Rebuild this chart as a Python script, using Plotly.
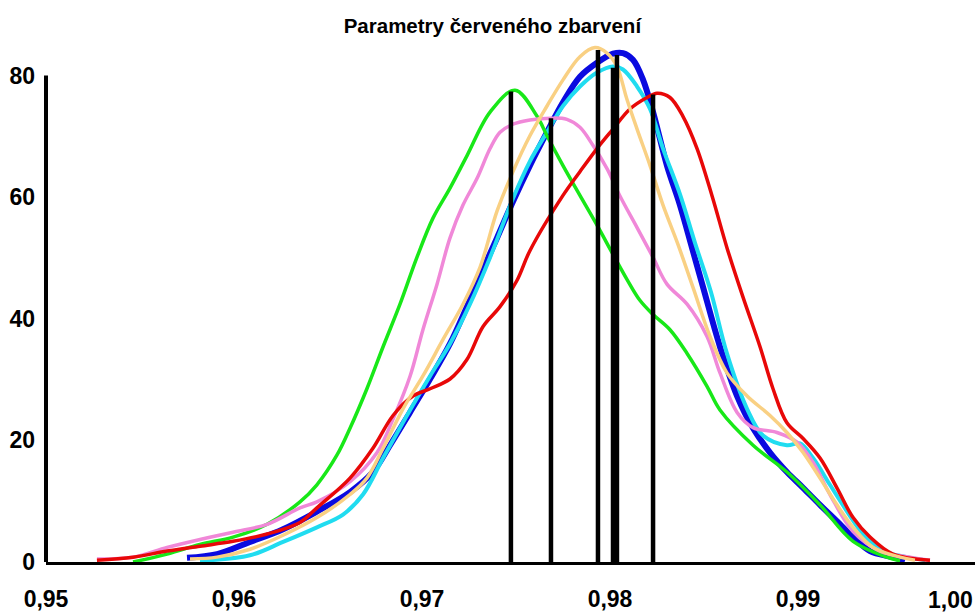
import plotly.graph_objects as go

# ---------------- data ----------------
green_x = [0.95463, 0.95644, 0.95819, 0.95995, 0.96176, 0.96351, 0.96441, 0.96548, 0.96617, 0.96707,
           0.96793, 0.96883, 0.96973, 0.97059, 0.97149, 0.97239, 0.97362, 0.97495, 0.97612, 0.97665,
           0.97750, 0.97840, 0.97931, 0.98016, 0.98090, 0.98160, 0.98229, 0.98319, 0.98410, 0.98516,
           0.98585, 0.98761, 0.98941, 0.99117, 0.99293, 0.99473, 0.99543]
green_y = [0.0, 1.3, 2.9, 4.1, 6.2, 9.9, 12.7, 17.6, 22.0, 28.5,
           35.4, 42.4, 50.1, 56.6, 61.5, 66.8, 74.0, 77.6, 73.3, 70.1,
           65.2, 60.3, 55.4, 50.6, 46.5, 43.0, 40.7, 38.2, 34.3, 28.9,
           25.0, 19.2, 14.8, 9.4, 3.4, 0.8, 0.2]

pink_x = [0.95271, 0.95463, 0.95644, 0.95819, 0.95995, 0.96176, 0.96351, 0.96441, 0.96617, 0.96761,
          0.96846, 0.96936, 0.97005, 0.97080, 0.97149, 0.97218, 0.97293, 0.97362, 0.97415, 0.97484,
          0.97574, 0.97686, 0.97771, 0.97840, 0.97910, 0.97984, 0.98053, 0.98144, 0.98229, 0.98303,
          0.98410, 0.98516, 0.98585, 0.98676, 0.98761, 0.98888, 0.98995, 0.99080, 0.99170, 0.99293,
          0.99436, 0.99596, 0.99702]
pink_y = [0.5, 0.8, 2.4, 3.7, 4.9, 6.2, 8.9, 9.9, 13.2, 18.0,
          23.5, 30.5, 38.2, 45.7, 53.3, 58.7, 63.1, 68.0, 70.7, 72.0,
          72.7, 73.0, 72.8, 71.5, 68.5, 64.7, 60.2, 55.0, 50.1, 45.7,
          42.4, 37.1, 31.1, 24.6, 22.1, 21.3, 19.7, 16.4, 11.1, 5.0,
          1.8, 0.8, 0.3]

blue_x = [0.95750, 0.95910, 0.96085, 0.96261, 0.96441, 0.96617, 0.96739, 0.96830, 0.96936, 0.97043,
          0.97149, 0.97239, 0.97324, 0.97399, 0.97484, 0.97574, 0.97665, 0.97750, 0.97840, 0.97931,
          0.98016, 0.98069, 0.98122, 0.98176, 0.98229, 0.98303, 0.98372, 0.98436, 0.98495, 0.98585,
          0.98676, 0.98761, 0.98851, 0.98941, 0.99027, 0.99117, 0.99207, 0.99293, 0.99383, 0.99505,
          0.99569]
blue_y = [0.7, 1.3, 3.3, 5.4, 8.3, 11.5, 14.8, 19.2, 24.6, 30.1,
          35.9, 42.0, 48.1, 53.3, 59.3, 65.2, 70.7, 75.6, 79.8, 82.1,
          83.6, 83.7, 82.6, 79.3, 74.0, 65.2, 58.7, 51.7, 45.2, 35.4,
          27.3, 22.0, 18.0, 14.8, 12.2, 9.4, 6.7, 4.1, 1.8, 0.8,
          0.2]

cyan_x = [0.95819, 0.96085, 0.96261, 0.96441, 0.96580, 0.96686, 0.96793, 0.96920, 0.97043, 0.97149,
          0.97255, 0.97362, 0.97484, 0.97574, 0.97665, 0.97750, 0.97840, 0.97931, 0.98016, 0.98069,
          0.98144, 0.98213, 0.98282, 0.98372, 0.98452, 0.98537, 0.98622, 0.98729, 0.98814, 0.98941,
          0.99011, 0.99080, 0.99170, 0.99261, 0.99346, 0.99452, 0.99580, 0.99676]
cyan_y = [0.2, 1.1, 3.3, 5.7, 7.8, 11.1, 17.1, 24.1, 30.6, 35.9,
          42.4, 50.1, 59.8, 65.9, 70.7, 75.0, 78.2, 80.5, 81.5, 81.0,
          78.2, 74.5, 68.0, 60.5, 52.5, 44.4, 34.3, 25.2, 20.8, 19.2,
          19.5, 17.1, 12.7, 8.3, 4.6, 1.8, 0.8, 0.3]

orange_x = [0.95766, 0.95910, 0.96085, 0.96261, 0.96441, 0.96617, 0.96707, 0.96793, 0.96899, 0.97005,
            0.97112, 0.97218, 0.97309, 0.97399, 0.97484, 0.97574, 0.97665, 0.97750, 0.97840, 0.97920,
            0.97984, 0.98037, 0.98090, 0.98144, 0.98213, 0.98282, 0.98362, 0.98441, 0.98532, 0.98622,
            0.98729, 0.98851, 0.98941, 0.99027, 0.99117, 0.99207, 0.99293, 0.99399, 0.99543, 0.99622]
orange_y = [0.5, 0.8, 2.1, 4.4, 7.3, 11.1, 13.8, 18.7, 25.2, 30.6,
            36.6, 42.4, 48.5, 57.7, 64.2, 70.1, 75.0, 79.3, 83.1, 84.6,
            83.7, 81.5, 76.1, 71.2, 65.2, 58.7, 52.2, 45.2, 37.1, 31.1,
            27.3, 24.1, 21.3, 18.0, 13.8, 9.4, 5.7, 2.4, 0.8, 0.3]

red_x = [0.95271, 0.95463, 0.95644, 0.95819, 0.95995, 0.96176, 0.96351, 0.96441, 0.96617, 0.96739,
         0.96846, 0.96952, 0.97043, 0.97149, 0.97239, 0.97324, 0.97415, 0.97505, 0.97574, 0.97750,
         0.97840, 0.97931, 0.98016, 0.98106, 0.98197, 0.98250, 0.98319, 0.98388, 0.98463, 0.98543,
         0.98622, 0.98707, 0.98798, 0.98867, 0.98941, 0.99027, 0.99117, 0.99207, 0.99293, 0.99383,
         0.99505, 0.99702]
red_y = [0.3, 0.8, 1.8, 2.6, 3.4, 4.6, 6.5, 8.9, 13.8, 18.7,
         24.1, 27.3, 28.5, 30.1, 33.3, 38.7, 42.0, 46.3, 51.2, 60.3,
         64.2, 68.0, 71.2, 74.5, 76.4, 77.1, 76.4, 73.3, 68.0, 60.2,
         51.7, 43.6, 35.4, 28.5, 22.9, 20.3, 17.1, 12.2, 7.3, 4.1,
         1.3, 0.3]

# mean markers (vertical black lines) and their heights
mean_x = [0.97473, 0.97686, 0.97936, 0.98016, 0.98037, 0.98229]
mean_h = [77.4, 73.0, 84.2, 81.3, 83.4, 76.9]

x_ticks = [0.95, 0.96, 0.97, 0.98, 0.99]
x_ticktext = ["0,95", "0,96", "0,97", "0,98", "0,99"]
last_x_label = "1,00"
y_ticks = [0, 20, 40, 60, 80]
y_top = 80

title_text = "Parametry červeného zbarvení"

# ---------------- figure ----------------
FONT = "Liberation Sans, Arial, sans-serif"

series = [
    (blue_x, blue_y, "#0a0ae0", 6),
    (cyan_x, cyan_y, "#20dcf0", 4),
    (green_x, green_y, "#18e818", 3.5),
    (pink_x, pink_y, "#f088d8", 3.5),
    (red_x, red_y, "#e80808", 3.5),
    (orange_x, orange_y, "#f9d083", 3.5),
]

fig = go.Figure()
for xs, ys, col, w in series:
    fig.add_trace(go.Scatter(x=xs, y=ys, mode="lines",
                             line=dict(color=col, width=w, shape="spline", smoothing=1.0),
                             hoverinfo="skip", showlegend=False))

for mx, mh in zip(mean_x, mean_h):
    fig.add_trace(go.Scatter(x=[mx, mx], y=[0, mh], mode="lines",
                             line=dict(color="black", width=4.5),
                             hoverinfo="skip", showlegend=False))

px_per_unit = 6.15
plot_h = 612 - 40 - 44
x_max = 0.95 + 929 / 18800

fig.update_layout(
    width=975, height=612,
    margin=dict(l=46, r=0, t=40, b=44),
    paper_bgcolor="white", plot_bgcolor="white",
    title=dict(text=title_text, x=0.505, xanchor="center", y=0.957, yanchor="middle",
               font=dict(family=FONT, size=20.5, color="black", weight="bold")),
    xaxis=dict(range=[0.95, x_max], tickvals=x_ticks, ticktext=x_ticktext,
               showgrid=False, zeroline=False, showline=True, linecolor="black", linewidth=3,
               ticks="", ticklabelstandoff=14,
               tickfont=dict(family=FONT, size=23, color="black", weight="bold")),
    yaxis=dict(range=[0, plot_h / px_per_unit], tickvals=y_ticks, ticktext=[str(v) for v in y_ticks],
               showgrid=False, zeroline=False, showline=False,
               ticks="", ticklabelstandoff=10,
               tickfont=dict(family=FONT, size=23, color="black", weight="bold")),
    shapes=[dict(type="line", xref="paper", x0=0, x1=0, yref="y", y0=0, y1=y_top,
                 line=dict(color="black", width=4))],
    annotations=[dict(text=last_x_label, xref="paper", x=1.0, xanchor="right",
                      yref="paper", y=-38 / plot_h, yanchor="middle", showarrow=False,
                      font=dict(family=FONT, size=23, color="black", weight="bold"))],
)

fig.write_html("out.html")
